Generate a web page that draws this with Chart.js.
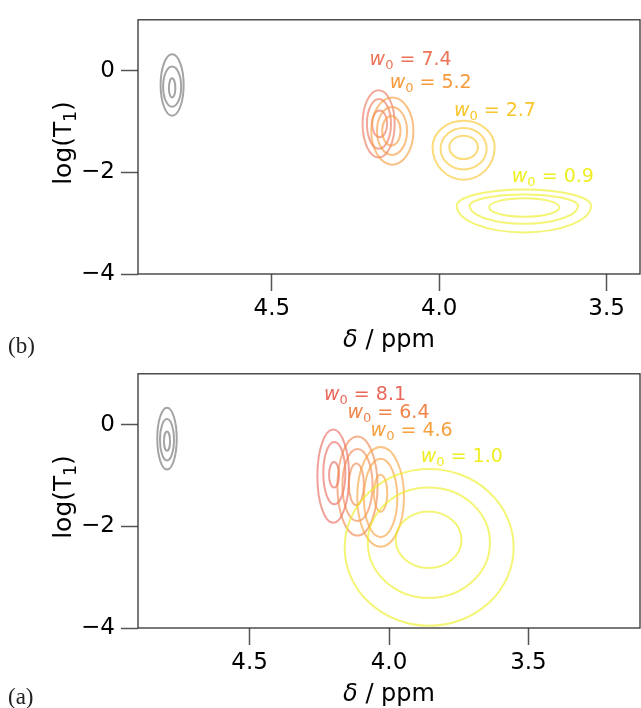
<!DOCTYPE html>
<html><head><meta charset="utf-8">
<script src="https://cdn.jsdelivr.net/npm/chart.js@4.4.1/dist/chart.umd.min.js"></script>
<style>
html,body{margin:0;background:#fff}
#fig{position:relative;width:641px;height:708px;overflow:hidden}
canvas{position:absolute;left:0}
#cb{top:0} #ca{top:354px}
.panel{position:absolute;left:8px;font:23px 'Liberation Serif',serif;color:#222;line-height:26px}
</style></head><body>
<div id="fig">
  <canvas id="cb" width="641" height="354"></canvas>
  <canvas id="ca" width="641" height="354"></canvas>
  <div class="panel" style="top:333px">(b)</div>
  <div class="panel" style="top:684px">(a)</div>
</div>
<script>
'use strict';

// axes
const xTicks = [4.5, 4.0, 3.5];
const yTicks = [-4, -2, 0];
const yRange = [-4, 1];
const bXRange = [3.4, 4.9];
const aXRange = [3.1, 4.9];

// contour rings: [centre δ, centre logT1, half-width δ, half-height up, half-height down]
const bRef = [[4.798, -0.283, 0.0344, 0.604, 0.604], [4.798, -0.315, 0.0269, 0.396, 0.396], [4.798, -0.340, 0.0096, 0.189, 0.189]];
const b74 = [[4.181, -1.047, 0.048, 0.66, 0.66], [4.180, -1.047, 0.036, 0.49, 0.49], [4.178, -1.047, 0.0225, 0.264, 0.264]];
const b52 = [[4.140, -1.189, 0.063, 0.66, 0.66], [4.141, -1.186, 0.045, 0.472, 0.472], [4.143, -1.183, 0.0275, 0.289, 0.289]];
const b27 = [[3.927, -1.504, 0.0928, 0.517, 0.642], [3.927, -1.534, 0.0689, 0.408, 0.409], [3.927, -1.509, 0.0428, 0.230, 0.230]];
const b09 = [[3.747, -2.660, 0.2006, 0.321, 0.523], [3.747, -2.660, 0.1617, 0.226, 0.353], [3.746, -2.685, 0.1048, 0.175, 0.189]];

const aRef = [[4.796, -0.274, 0.0349, 0.608, 0.608], [4.796, -0.296, 0.0252, 0.409, 0.409], [4.796, -0.326, 0.0108, 0.189, 0.189]];
const a81 = [[4.200, -1.013, 0.0568, 0.919, 0.919], [4.196, -0.953, 0.0396, 0.613, 0.613], [4.197, -0.987, 0.018, 0.251, 0.251]];
const a64 = [[4.113, -1.208, 0.072, 0.975, 0.975], [4.113, -1.189, 0.054, 0.708, 0.708], [4.117, -1.175, 0.027, 0.409, 0.409]];
const a46 = [[4.030, -1.421, 0.0838, 0.981, 0.981], [4.030, -1.443, 0.060, 0.770, 0.770], [4.030, -1.349, 0.0241, 0.362, 0.362]];
const a10 = [[3.856, -2.415, 0.303, 1.542, 1.542], [3.857, -2.321, 0.219, 1.085, 1.085], [3.858, -2.264, 0.118, 0.557, 0.557]];

// w0 annotations: value and anchor (left, baseline) in data units
const bW0 = ['7.4', '5.2', '2.7', '0.9'];
const bW0At = [[4.208, 0.113], [4.148, -0.340], [3.956, -0.893], [3.783, -2.195]];
const aW0 = ['8.1', '6.4', '4.6', '1.0'];
const aW0At = [[4.233, 0.491], [4.149, 0.132], [4.066, -0.232], [3.886, -0.736]];

const GRAY = '#a4a4a4';
const bColors = ['#ec7358', '#f79a3c', '#f8c52c', '#eeee22'];
const aColors = ['#e8685c', '#f1844a', '#f7a03e', '#eeee22'];

const FONT = "'DejaVu Sans', sans-serif";

const withAlpha = (hex, a) => {
  const n = parseInt(hex.slice(1), 16);
  return `rgba(${n >> 16},${(n >> 8) & 255},${n & 255},${a})`;
};

function drawRuns(ctx, parts, x, y, align) {
  let w = 0;
  parts.forEach((p) => { ctx.font = p.font; p.w = ctx.measureText(p.t).width; w += p.w; });
  let cx = align === 'center' ? x - w / 2 : x;
  parts.forEach((p) => { ctx.font = p.font; ctx.fillText(p.t, cx, y + (p.dy || 0)); cx += p.w; });
}

// ---------------------------------------------------------------- contours
const contours = {
  id: 'contours',
  beforeDatasetsDraw(chart) {
    const { ctx, chartArea: a, scales: { x, y } } = chart;
    ctx.save();
    ctx.beginPath(); ctx.rect(a.left, a.top, a.right - a.left, a.bottom - a.top); ctx.clip();
    chart.data.datasets.forEach((ds, i) => {
      const pts = chart.getDatasetMeta(i).data;
      ctx.strokeStyle = ds.borderColor; ctx.lineWidth = 2;
      ds.data.forEach((r, j) => {
        const px = pts[j].x, py = pts[j].y;
        const w = Math.abs(x.getPixelForValue(r.x + r.rx) - px);
        const hu = Math.abs(y.getPixelForValue(r.y + r.up) - py);
        const hd = Math.abs(y.getPixelForValue(r.y - r.dn) - py);
        ctx.beginPath();
        ctx.ellipse(px, py, w, hu, 0, Math.PI, 2 * Math.PI);
        ctx.ellipse(px, py, w, hd, 0, 0, Math.PI);
        ctx.closePath(); ctx.stroke();
      });
    });
    ctx.restore();
  },
};

// ---------------------------------------------------------------- frame, titles, w0 labels
const decor = {
  id: 'decor',
  afterDraw(chart, args, o) {
    const { ctx, chartArea: a, scales: { x, y } } = chart;
    ctx.save();
    ctx.strokeStyle = '#333'; ctx.lineWidth = 1.3;
    ctx.strokeRect(a.left, a.top, a.right - a.left, a.bottom - a.top);

    ctx.fillStyle = '#000'; ctx.textAlign = 'left'; ctx.textBaseline = 'alphabetic';
    drawRuns(ctx, [
      { t: 'δ', font: `italic 24px ${FONT}` },
      { t: ' / ppm', font: `24px ${FONT}` },
    ], (a.left + a.right) / 2, 347, 'center');

    ctx.save();
    ctx.translate(71, 143);
    ctx.rotate(-Math.PI / 2);
    drawRuns(ctx, [
      { t: 'log(T', font: `25px ${FONT}` },
      { t: '1', font: `17px ${FONT}`, dy: 5 },
      { t: ')', font: `25px ${FONT}` },
    ], 0, 0, 'center');
    ctx.restore();

    o.labels.forEach((v, i) => {
      ctx.fillStyle = o.colors[i];
      const [lx, ly] = o.at[i];
      drawRuns(ctx, [
        { t: 'w', font: `italic 19px ${FONT}` },
        { t: '0', font: `13px ${FONT}`, dy: 4 },
        { t: ' = ' + v, font: `19px ${FONT}` },
      ], x.getPixelForValue(lx), y.getPixelForValue(ly), 'left');
    });
    ctx.restore();
  },
};

function makePanel(id, xRange, peaks, colors, labels, at) {
  const datasets = peaks.map((rings, i) => ({
    data: rings.map((r) => ({ x: r[0], y: r[1], rx: r[2], up: r[3], dn: r[4] })),
    borderColor: i === 0 ? GRAY : withAlpha(colors[i - 1], 0.62),
    pointRadius: 0,
  }));
  const axisTicks = { font: { family: FONT, size: 23 }, color: '#000' };
  const grid = { drawOnChartArea: false, drawTicks: true, tickLength: 17, tickColor: '#555', tickWidth: 1.5 };
  return new Chart(document.getElementById(id), {
    type: 'scatter',
    data: { datasets },
    options: {
      responsive: false, animation: false,
      layout: { padding: { top: 9, right: 1, left: 0, bottom: 0 } },
      plugins: { legend: { display: false }, tooltip: { enabled: false }, decor: { labels, colors, at } },
      scales: {
        x: {
          type: 'linear', reverse: true, min: xRange[0], max: xRange[1],
          afterBuildTicks: (s) => { s.ticks = xTicks.map((v) => ({ value: v })); },
          afterFit: (s) => { s.height = 80; },
          ticks: { ...axisTicks, padding: 4, callback: (v) => v.toFixed(1) },
          grid, border: { display: false },
        },
        y: {
          type: 'linear', min: yRange[0], max: yRange[1],
          afterBuildTicks: (s) => { s.ticks = yTicks.map((v) => ({ value: v })); },
          afterFit: (s) => { s.width = 138; },
          ticks: { ...axisTicks, padding: 6, callback: (v) => String(v).replace('-', '\u2212') },
          grid, border: { display: false },
        },
      },
    },
    plugins: [contours, decor],
  });
}

makePanel('cb', bXRange, [bRef, b74, b52, b27, b09], bColors, bW0, bW0At);
makePanel('ca', aXRange, [aRef, a81, a64, a46, a10], aColors, aW0, aW0At);
</script>
</body></html>
